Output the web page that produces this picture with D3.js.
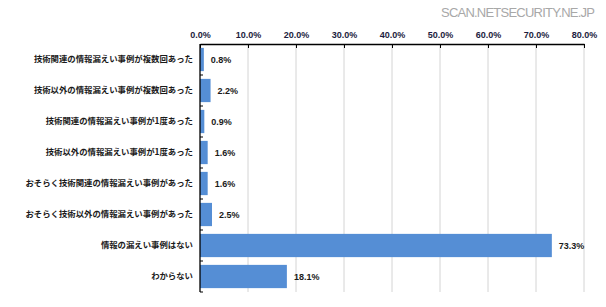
<!DOCTYPE html>
<html>
<head>
<meta charset="utf-8">
<script src="https://cdn.jsdelivr.net/npm/d3@7"></script>
<style>
  body { margin: 0; background: #fff; }
  .cat text { font-family: "Noto Sans CJK JP", sans-serif; font-weight: bold; font-size: 8.4px; fill: #1a1a1a; }
  .xaxis text { font-family: "Liberation Sans Narrow", "Liberation Sans", sans-serif; font-weight: bold; font-size: 9px; fill: #1c1c40; }
  .val { font-family: "Liberation Sans Narrow", "Liberation Sans", sans-serif; font-weight: bold; font-size: 9px; fill: #1a1a1a; }
</style>
</head>
<body>
<svg id="chart"></svg>
<script>
var categories = [
  "技術関連の情報漏えい事例が複数回あった",
  "技術以外の情報漏えい事例が複数回あった",
  "技術関連の情報漏えい事例が1度あった",
  "技術以外の情報漏えい事例が1度あった",
  "おそらく技術関連の情報漏えい事例があった",
  "おそらく技術以外の情報漏えい事例があった",
  "情報の漏えい事例はない",
  "わからない"
];
var values = [0.8, 2.2, 0.9, 1.6, 1.6, 2.5, 73.3, 18.1];
var tickValues = [0, 10, 20, 30, 40, 50, 60, 70, 80];

var margin = {top: 44, right: 22, bottom: 15, left: 200};
var W = 606, H = 307;
var width = W - margin.left - margin.right;
var height = H - margin.top - margin.bottom;

var svg = d3.select("#chart").attr("width", W).attr("height", H);

// watermark
svg.append("text")
    .attr("x", 595).attr("y", 17)
    .attr("text-anchor", "end")
    .attr("textLength", 154)
    .style("font-family", "Liberation Sans, sans-serif")
    .style("font-size", "13px")
    .style("fill", "#a8a8a8")
    .text("SCAN.NETSECURITY.NE.JP");

var g = svg.append("g").attr("transform", "translate(" + margin.left + "," + margin.top + ")");

var x = d3.scaleLinear().domain([0, 80]).range([0, width]);
var y = d3.scaleBand().domain(categories).range([0, height])
    .paddingInner(0.25).paddingOuter(0.125);

// gridlines
g.selectAll(".grid").data(tickValues.slice(1)).enter()
    .append("line")
    .attr("x1", function (d) { return x(d); })
    .attr("x2", function (d) { return x(d); })
    .attr("y1", 0).attr("y2", height)
    .style("stroke", "#d4d4d4").style("stroke-width", 1);

// bars
g.selectAll(".bars").data(values).enter()
    .append("rect")
    .attr("class", "bars")
    .attr("x", x(0))
    .attr("y", function (d, i) { return y(categories[i]); })
    .attr("width", function (d) { return x(d) - x(0); })
    .attr("height", y.bandwidth())
    .style("fill", "#558ed5");

// value labels
g.selectAll(".val").data(values).enter()
    .append("text")
    .attr("class", "val")
    .attr("x", function (d) { return x(d) + 7; })
    .attr("y", function (d, i) { return y(categories[i]) + y.bandwidth() / 2; })
    .attr("dy", "0.35em")
    .text(function (d) { return d.toFixed(1) + "%"; });

// top axis
var xAxis = d3.axisTop(x).tickValues(tickValues)
    .tickSizeInner(-4).tickSizeOuter(0).tickPadding(6)
    .tickFormat(function (d) { return d.toFixed(1) + "%"; });
g.append("g").attr("class", "xaxis").call(xAxis)
    .call(function (a) {
        a.selectAll("line").style("stroke", "#000");
        a.select(".domain").style("stroke", "#000").style("stroke-width", 1.3);
    });

// left axis labels
var yAxis = d3.axisLeft(y).tickSize(0).tickPadding(7);
g.append("g").attr("class", "cat").call(yAxis)
    .call(function (a) { a.select(".domain").remove(); });

// left axis line with ticks at band boundaries
g.append("line").attr("x1", 0).attr("x2", 0).attr("y1", 0).attr("y2", height)
    .style("stroke", "#000").style("stroke-width", 1.3);
var step = y.step();
g.selectAll(".ytick").data(d3.range(1, categories.length + 1)).enter()
    .append("line")
    .attr("x1", 0).attr("x2", 3)
    .attr("y1", function (d) { return d * step; })
    .attr("y2", function (d) { return d * step; })
    .style("stroke", "#000");
</script>
</body>
</html>
